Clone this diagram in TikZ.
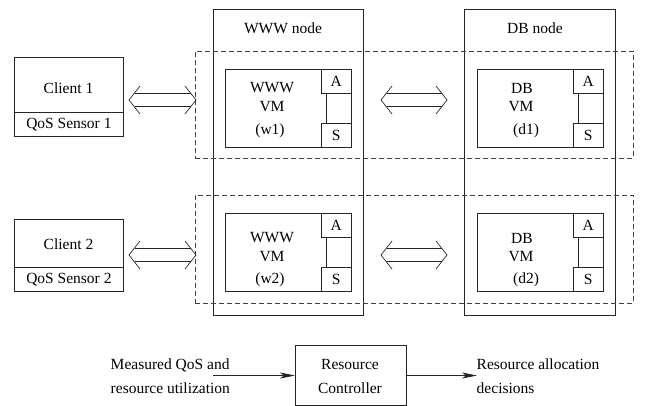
\documentclass[tikz,border=0pt]{standalone}
\usepackage{fontspec}
\setmainfont{Liberation Serif}
\usetikzlibrary{arrows.meta,calc}

% open double-line arrow between two named coordinates (left tip, right tip)
\newcommand\twowayarrow[2]{%
  \draw[thinline] ($(#1)+(11,-14)$) -- (#1) -- ($(#1)+(11,14)$);
  \draw[thinline] ($(#2)+(-11,-14)$) -- (#2) -- ($(#2)+(-11,14)$);
  \draw[thinline] ($(#1)+(5.5,-6.7)$) -- ($(#2)+(-5.5,-6.7)$);
  \draw[thinline] ($(#1)+(5.5,6.7)$) -- ($(#2)+(-5.5,6.7)$);
}

\begin{document}
\begin{tikzpicture}[x=1pt,y=-1pt,
  line width=0.8pt, draw=black!85,
  every node/.style={font=\fontsize{15.5}{24}\selectfont, text=black},
  box/.style={draw=black!85, rectangle, inner sep=0pt, anchor=north west},
  dashbox/.style={box, dash pattern=on 5pt off 3pt, draw=black!75},
  thinline/.style={line width=0.7pt, draw=black!85},
  flow/.style={line width=0.8pt, -{Stealth[length=15pt,width=6pt,inset=4pt]}},
]
\useasboundingbox (0,0) rectangle (645,405);

% physical hosts
\node[box, minimum width=150, minimum height=306] (wwwhost) at (213,9) {};
\node[box, minimum width=151, minimum height=306] (dbhost) at (464,9) {};
\node (wwwhostlabel) at (283,28) {WWW node};
\node (dbhostlabel) at (535,28) {DB node};

% application tiers (dashed groups)
\node[dashbox, minimum width=438, minimum height=107] (tier1) at (195,51) {};
\node[dashbox, minimum width=438, minimum height=108] (tier2) at (195,195) {};

% clients with their QoS sensors
\node[box, minimum width=109, minimum height=55] (client1) at (14,57) {};
\node (client1label) at (68.5,88.5) {Client 1};
\node[box, minimum width=109, minimum height=24] (sensor1) at (14,112) {QoS Sensor 1};
\node[box, minimum width=109, minimum height=48] (client2) at (14,219) {};
\node (client2label) at (68.5,244) {Client 2};
\node[box, minimum width=109, minimum height=24] (sensor2) at (14,267) {QoS Sensor 2};

% virtual machines: WWW tier
\node[box, minimum width=126, minimum height=78] (w1) at (225,69) {};
\node[box, minimum width=30, minimum height=24] (w1a) at (320.7,69) {A};
\node[box, minimum width=30, minimum height=24] (w1s) at (320.7,123) {S};
\node (w1t1) at (272,88) {WWW};
\node (w1t2) at (272,107) {VM};
\node (w1t3) at (270,131) {(w1)};

\node[box, minimum width=126, minimum height=78] (w2) at (225,213) {};
\node[box, minimum width=30, minimum height=24] (w2a) at (320.7,213) {A};
\node[box, minimum width=30, minimum height=24] (w2s) at (320.7,267) {S};
\node (w2t1) at (272,238) {WWW};
\node (w2t2) at (272,257) {VM};
\node (w2t3) at (270,280) {(w2)};

% virtual machines: DB tier
\node[box, minimum width=126, minimum height=78] (d1) at (477,69) {};
\node[box, minimum width=30, minimum height=24] (d1a) at (572.7,69) {A};
\node[box, minimum width=30, minimum height=24] (d1s) at (572.7,123) {S};
\node (d1t1) at (522,88) {DB};
\node (d1t2) at (521,107) {VM};
\node (d1t3) at (526,131) {(d1)};

\node[box, minimum width=126, minimum height=78] (d2) at (477,213) {};
\node[box, minimum width=30, minimum height=24] (d2a) at (572.7,213) {A};
\node[box, minimum width=30, minimum height=24] (d2s) at (572.7,267) {S};
\node (d2t1) at (522,238) {DB};
\node (d2t2) at (521,257) {VM};
\node (d2t3) at (526,280) {(d2)};

% actuator-sensor links
\foreach \v in {w1,w2,d1,d2}{
  \draw[thinline] ($(\v a.south west)+(6,0)$) -- ($(\v s.north west)+(6,0)$);
}

% request flows
\coordinate (c1out) at (129,100);
\coordinate (t1in) at (196,100);
\coordinate (c2out) at (129,255);
\coordinate (t2in) at (196,255);
\coordinate (w1out) at (381,100);
\coordinate (d1in) at (447,100);
\coordinate (w2out) at (381,255);
\coordinate (d2in) at (447,255);
\twowayarrow{c1out}{t1in}
\twowayarrow{c2out}{t2in}
\twowayarrow{w1out}{d1in}
\twowayarrow{w2out}{d2in}

% resource controller loop
\node[box, minimum width=111, minimum height=60] (ctrl) at (295,345) {};
\node (ctrllabel) at (350,376) [align=center] {Resource\\Controller};
\node[anchor=west, align=left] (inputs) at (107,376) {Measured QoS and\\resource utilization};
\node[anchor=west, align=left] (outputs) at (473,376) {Resource allocation\\decisions};
\coordinate (instart) at (213,375.5);
\coordinate (outend) at (477,375.5);
\draw[flow] (instart) -- (instart -| ctrl.west);
\draw[flow] (instart -| ctrl.east) -- (outend);
\end{tikzpicture}
\end{document}
